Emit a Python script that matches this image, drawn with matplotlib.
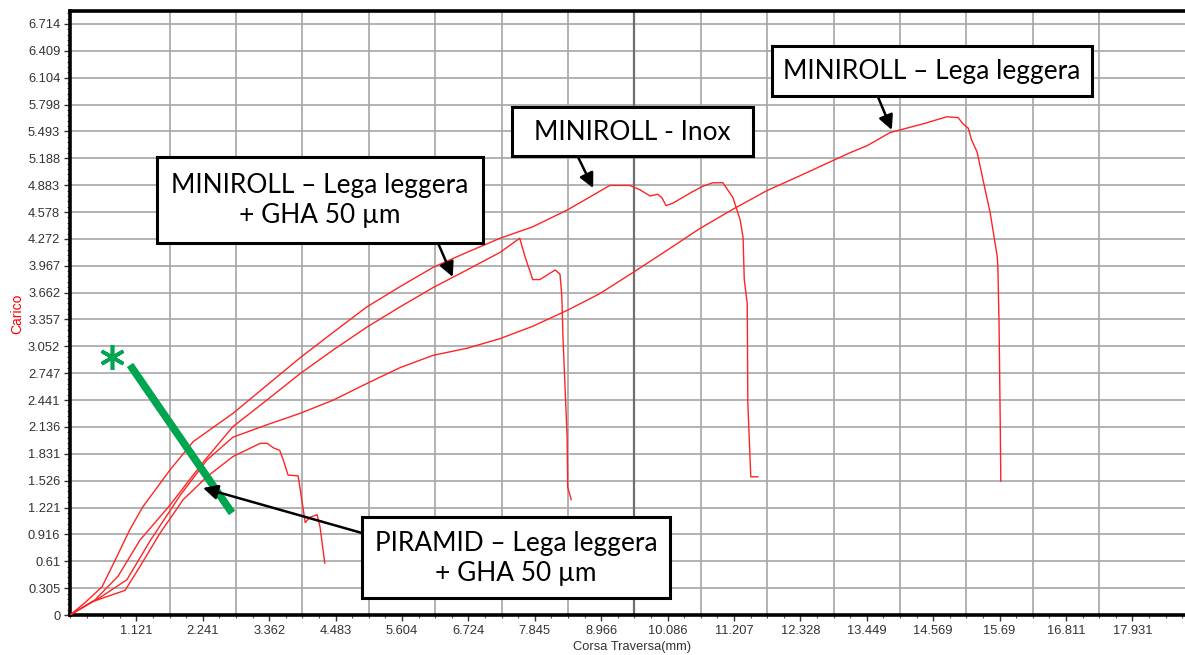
import matplotlib
matplotlib.use("Agg")
import matplotlib.pyplot as plt
from matplotlib.patches import Rectangle
from matplotlib.ticker import MultipleLocator

W, H = 1185, 655

X_STEP = 1.1206
Y_STEP = 6.714 / 22

X_TICK_LABELS = ["1.121", "2.241", "3.362", "4.483", "5.604", "6.724", "7.845", "8.966",
                 "10.086", "11.207", "12.328", "13.449", "14.569", "15.69", "16.811", "17.931"]
Y_TICK_LABELS = ["0", "0.305", "0.61", "0.916", "1.221", "1.526", "1.831", "2.136", "2.441",
                 "2.747", "3.052", "3.357", "3.662", "3.967", "4.272", "4.578", "4.883",
                 "5.188", "5.493", "5.798", "6.104", "6.409", "6.714"]

# PIRAMID - Lega leggera + GHA 50 um
piramid_x = [0, 0.37, 0.93, 1.18, 1.52, 1.91, 2.31, 2.75, 3.21, 3.33, 3.43, 3.54, 3.60,
             3.68, 3.85, 3.93, 3.97, 4.05, 4.17, 4.22, 4.30]
piramid_y = [0, 0.15, 0.28, 0.55, 0.93, 1.31, 1.57, 1.80, 1.95, 1.95, 1.90, 1.87, 1.76,
             1.59, 1.58, 1.23, 1.05, 1.11, 1.14, 1.00, 0.59]

# MINIROLL - Inox
inox_x = [0, 0.27, 0.54, 0.76, 1.01, 1.23, 1.69, 2.08, 2.75, 3.43, 3.88, 4.44, 5.01, 5.57,
          6.13, 6.70, 7.26, 7.81, 8.39, 8.83, 9.11, 9.45, 9.62, 9.79, 9.92, 9.99, 10.06,
          10.18, 10.51, 10.68, 10.85, 11.02, 11.19, 11.31, 11.36, 11.38, 11.43, 11.44,
          11.49, 11.61]
inox_y = [0, 0.15, 0.32, 0.62, 0.97, 1.23, 1.65, 1.97, 2.29, 2.67, 2.92, 3.21, 3.50, 3.73,
          3.95, 4.12, 4.28, 4.41, 4.60, 4.77, 4.88, 4.88, 4.83, 4.76, 4.78, 4.74, 4.65,
          4.68, 4.81, 4.87, 4.91, 4.91, 4.74, 4.49, 4.29, 3.81, 3.54, 2.41, 1.57, 1.57]

# MINIROLL - Lega leggera + GHA 50 um
gha_x = [0, 0.42, 0.81, 1.18, 1.69, 2.24, 2.75, 3.32, 3.88, 4.44, 5.01, 5.57, 6.13, 6.70,
         7.26, 7.59, 7.68, 7.81, 7.93, 8.19, 8.27, 8.30, 8.32, 8.39, 8.40, 8.46]
gha_y = [0, 0.17, 0.44, 0.85, 1.25, 1.73, 2.14, 2.44, 2.74, 3.01, 3.27, 3.50, 3.72, 3.92,
         4.12, 4.28, 4.07, 3.81, 3.81, 3.92, 3.87, 3.63, 3.16, 2.02, 1.45, 1.31]

# MINIROLL - Lega leggera
lega_x = [0, 0.51, 0.96, 1.35, 1.86, 2.31, 2.75, 3.32, 3.88, 4.44, 5.01, 5.57, 6.13, 6.70,
          7.26, 7.81, 8.39, 8.94, 9.50, 10.07, 10.63, 11.19, 11.76, 12.32, 13.16, 13.45,
          13.84, 14.40, 14.80, 14.99, 15.07, 15.16, 15.22, 15.31, 15.41, 15.53, 15.65,
          15.66, 15.68, 15.70, 15.71]
lega_y = [0, 0.20, 0.40, 0.84, 1.36, 1.76, 2.02, 2.16, 2.29, 2.44, 2.63, 2.81, 2.95, 3.03,
          3.14, 3.28, 3.46, 3.65, 3.89, 4.14, 4.39, 4.61, 4.82, 4.99, 5.25, 5.33, 5.48,
          5.58, 5.66, 5.65, 5.58, 5.53, 5.39, 5.26, 4.94, 4.57, 4.07, 3.96, 3.32, 2.19, 1.52]

CURVE = "#ff2424"
GRID = "#a6a6a6"
GRID_DARK = "#6e6e6e"
TICK_TEXT = "#333333"
GREEN = "#00a550"
BOX_FONT = "Lato"


def fx(px):
    return px / W


def fy(py):
    return 1 - py / H


def draw_box(fig, left, top, right, bottom, lines, centers_y, size=18.9):
    fig.add_artist(Rectangle((fx(left), fy(bottom)), fx(right) - fx(left), fy(top) - fy(bottom),
                             transform=fig.transFigure, facecolor="white", edgecolor="black",
                             linewidth=2.2, zorder=10))
    cx = (left + right) / 2
    for line, cy in zip(lines, centers_y):
        fig.text(fx(cx), fy(cy), line, ha="center", va="center", fontsize=size,
                 family=BOX_FONT, color="black", zorder=11)


def arrow(ax, tip, start_px):
    ax.annotate("", xy=tip, xycoords="data",
                xytext=(fx(start_px[0]), fy(start_px[1])), textcoords="figure fraction",
                arrowprops=dict(arrowstyle="-|>", color="black", lw=1.8,
                                mutation_scale=22, shrinkA=0, shrinkB=0),
                zorder=12, annotation_clip=False)


def main():
    plt.rcParams["font.family"] = ["Liberation Sans", "DejaVu Sans"]
    fig = plt.figure(figsize=(W / 100, H / 100), dpi=100)
    ax = fig.add_axes([fx(70), fy(615), fx(W) - fx(70), fy(11) - fy(615)])
    ax.set_xlim(0, (W - 70) / 59.25)
    ax.set_ylim(0, (615 - 11) / 88.03)

    # grid
    for k in range(23):
        ax.axhline(k * Y_STEP, color=GRID, lw=1.2, zorder=0)
    for k in range(1, 16):
        ax.axvline((k + 0.5) * X_STEP, color=GRID_DARK if k == 8 else GRID,
                   lw=1.6 if k == 8 else 1.2, zorder=0)

    for xs, ys in [(inox_x, inox_y), (gha_x, gha_y), (lega_x, lega_y), (piramid_x, piramid_y)]:
        ax.plot(xs, ys, color=CURVE, lw=1.0, zorder=3)

    ax.set_xticks([k * X_STEP for k in range(1, 17)])
    ax.set_xticklabels(X_TICK_LABELS)
    ax.set_yticks([k * Y_STEP for k in range(23)])
    ax.set_yticklabels(Y_TICK_LABELS)
    ax.xaxis.set_minor_locator(MultipleLocator(X_STEP / 4))
    ax.yaxis.set_minor_locator(MultipleLocator(Y_STEP / 5))
    ax.tick_params(which="major", length=4, width=1, colors=TICK_TEXT, labelsize=9.3, pad=3)
    ax.tick_params(which="minor", length=2.5, width=0.8, colors="#555555")

    ax.spines["right"].set_visible(False)
    for side in ("left", "top", "bottom"):
        ax.spines[side].set_linewidth(2.6)
        ax.spines[side].set_color("black")

    fig.text(fx(17), fy(314), "Carico", rotation=90, color="red", fontsize=10,
             ha="center", va="center")
    fig.text(fx(632), fy(647), "Corsa Traversa(mm)", color=TICK_TEXT, fontsize=9.3,
             ha="center", va="center")

    # green marks
    ax.plot([1.013, 2.734], [2.840, 1.159], color=GREEN, lw=5.5, solid_capstyle="butt",
            zorder=6, clip_on=False)
    ax.plot([0.709], [2.931], marker=(6, 2, 0), ms=18, mew=2.6, color=GREEN, zorder=6)

    # callouts
    arrow(ax, (13.87, 5.51), (878, 97))
    arrow(ax, (8.83, 4.85), (578, 157))
    arrow(ax, (6.46, 3.84), (438, 243))
    arrow(ax, (2.245, 1.443), (362, 533))

    draw_box(fig, 772, 46, 1092, 96, ["MINIROLL \u2013 Lega leggera"], [72])
    draw_box(fig, 512, 107, 753, 156, ["MINIROLL - Inox"], [132])
    draw_box(fig, 157, 157, 483, 243, ["MINIROLL \u2013 Lega leggera", "+ GHA 50 \u00b5m"], [186, 215])
    draw_box(fig, 362, 517, 670, 598, ["PIRAMID \u2013 Lega leggera", "+ GHA 50 \u00b5m"], [543, 573])

    fig.savefig("out.png", dpi=100)
    plt.close(fig)


if __name__ == "__main__":
    main()
